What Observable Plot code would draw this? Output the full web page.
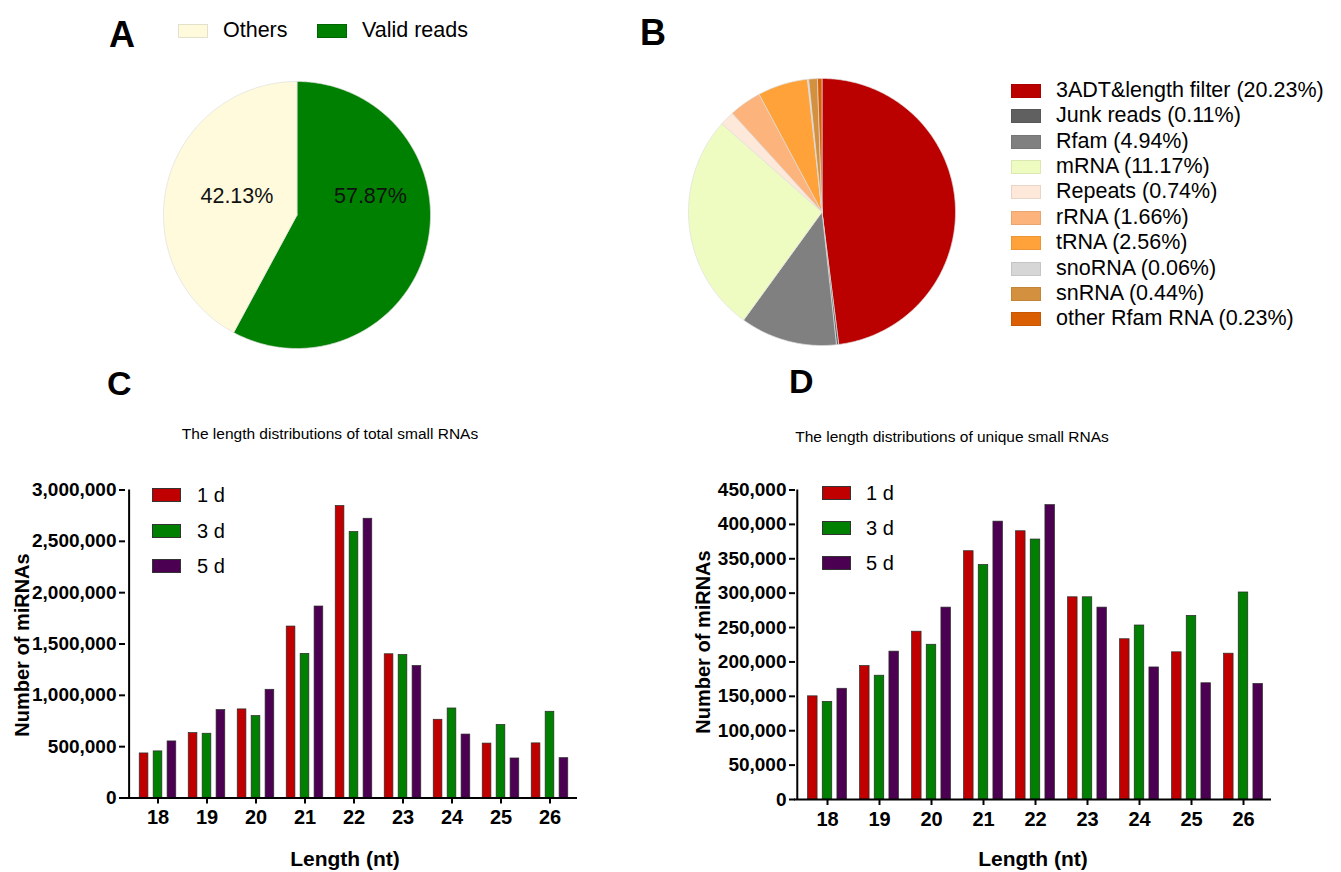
<!DOCTYPE html>
<html><head><meta charset="utf-8">
<script src="https://cdn.jsdelivr.net/npm/d3@7"></script>
<script src="https://cdn.jsdelivr.net/npm/@observablehq/plot@0.6"></script>
<style>
body{margin:0;background:#fff;}
#fig{position:relative;width:1341px;height:872px;background:#fff;font-family:"Liberation Sans",Arial,sans-serif;color:#000;overflow:hidden;}
.abs{position:absolute;white-space:nowrap;line-height:1;}
.plot{position:absolute;}
</style></head><body><div id="fig"></div>
<script>
// ---------- data ----------
const pieALabels = ["Others", "Valid reads"];
const pieAValues = [42.13, 57.87];
const pieAColors = ["#fffadc", "#008000"];

const pieBLabels = ["3ADT&length filter", "Junk reads", "Rfam", "mRNA", "Repeats", "rRNA", "tRNA", "snoRNA", "snRNA", "other Rfam RNA"];
const pieBValues = [20.23, 0.11, 4.94, 11.17, 0.74, 1.66, 2.56, 0.06, 0.44, 0.23];
const pieBColors = ["#bb0000", "#606060", "#808080", "#eefcc2", "#fde8da", "#fcb37c", "#ffa23a", "#d6d6d6", "#d3913f", "#d95f02"];

const lengths = ["18", "19", "20", "21", "22", "23", "24", "25", "26"];
const seriesNames = ["1 d", "3 d", "5 d"];
const seriesColors = ["#c00000", "#008000", "#4c0052"];

const total1d = [434000, 632000, 863000, 1670000, 2844000, 1400000, 762000, 530000, 532000];
const total3d = [454000, 626000, 798000, 1404000, 2591000, 1393000, 872000, 712000, 840000];
const total5d = [551000, 856000, 1054000, 1865000, 2720000, 1286000, 618000, 385000, 388000];

const unique1d = [150000, 194000, 244000, 361000, 390000, 294000, 233000, 214000, 212000];
const unique3d = [142000, 180000, 225000, 341000, 378000, 294000, 253000, 267000, 301000];
const unique5d = [161000, 215000, 279000, 404000, 428000, 279000, 192000, 169000, 168000];

const totalTicks = [0, 500000, 1000000, 1500000, 2000000, 2500000, 3000000];
const uniqueTicks = [0, 50000, 100000, 150000, 200000, 250000, 300000, 350000, 400000, 450000];

// ---------- helpers ----------
const fig = document.getElementById("fig");
function addText(txt, x, y, opts = {}) {
  const d = document.createElement("div");
  d.className = "abs";
  d.textContent = txt;
  d.style.left = x + "px";
  d.style.top = y + "px";
  d.style.fontSize = (opts.size || 16) + "px";
  d.style.fontWeight = opts.bold ? "bold" : "normal";
  let tf = "translateY(-50%)";
  if (opts.center) tf = "translate(-50%,-50%)";
  if (opts.rotate) tf = "translate(-50%,-50%) rotate(-90deg)";
  d.style.transform = tf;
  fig.appendChild(d);
  return d;
}
function addSwatch(x, y, w, h, color, border) {
  const d = document.createElement("div");
  d.className = "abs";
  Object.assign(d.style, {left: x + "px", top: (y - h / 2) + "px", width: w + "px", height: h + "px",
    background: color, boxSizing: "border-box", border: "1px solid " + (border || "rgba(0,0,0,0.35)")});
  fig.appendChild(d);
}
function place(el, left, top) {
  el.classList.add("plot");
  el.style.left = left + "px";
  el.style.top = top + "px";
  fig.appendChild(el);
}

function slicePoints(names, values, order) {
  const total = d3.sum(values);
  let a0 = 0;
  const pts = [], mids = [];
  for (const i of order) {
    const a1 = a0 + values[i] / total * 2 * Math.PI;
    pts.push({name: names[i], x: 0, y: 0});
    const n = Math.max(2, Math.ceil((a1 - a0) / (Math.PI / 360)));
    for (let k = 0; k <= n; k++) {
      const a = a0 + (a1 - a0) * k / n;
      pts.push({name: names[i], x: Math.sin(a), y: Math.cos(a)});
    }
    pts.push({name: names[i], x: 0, y: 0});
    mids.push({name: names[i], value: values[i], mid: (a0 + a1) / 2});
    a0 = a1;
  }
  return {pts, mids};
}

function pie(names, values, colors, order, r, extraMarks = () => []) {
  const {pts, mids} = slicePoints(names, values, order);
  const size = 2 * r + 2;
  return Plot.plot({
    width: size, height: size, margin: 1,
    style: {background: "transparent", overflow: "visible", fontFamily: "Liberation Sans, Arial, sans-serif"},
    x: {domain: [-1, 1], axis: null},
    y: {domain: [-1, 1], axis: null},
    color: {domain: names, range: colors},
    marks: [
      Plot.line(pts, {x: "x", y: "y", z: "name", fill: "name", stroke: "#dedede", strokeWidth: 0.7, curve: "linear"}),
      ...extraMarks(mids)
    ]
  });
}

function barChart(cfg) {
  const {vals, ticks, width, height, ml, mr, mt, mb} = cfg;
  const rows = [];
  seriesNames.forEach((s, i) => lengths.forEach((L, j) => rows.push({len: L, series: s, value: vals[i][j]})));
  const yMax = d3.max(ticks);
  const step = (width - ml - mr) / lengths.length;
  const barW = 0.19 * step, pitch = 0.28 * step;
  const inset = (step - barW) / 2;
  return Plot.plot({
    width, height, marginLeft: ml, marginRight: mr, marginTop: mt, marginBottom: mb,
    style: {fontFamily: "Liberation Sans, Arial, sans-serif", fontSize: "19px", fontWeight: "bold", color: "#000", background: "transparent", overflow: "visible"},
    x: {domain: lengths, padding: 0, axis: null},
    y: {domain: [0, yMax], axis: null},
    color: {domain: seriesNames, range: seriesColors},
    marks: [
      ...seriesNames.map((s, i) => Plot.barY(rows.filter(d => d.series === s), {
        x: "len", y: "value", fill: "series", stroke: "#2a2a2a", strokeWidth: 0.7,
        insetLeft: inset, insetRight: inset, dx: (i - 1) * pitch
      })),
      Plot.axisY({ticks, tickFormat: d3.format(","), tickSize: 6, tickPadding: 3, stroke: "#000", strokeWidth: 2, dx: -4, label: null, fontSize: 19, fontWeight: "bold"}),
      Plot.axisX({tickSize: 6, tickPadding: 6, stroke: "#000", strokeWidth: 2, label: null, fontSize: 20, fontWeight: "bold"}),
      Plot.ruleY([0], {stroke: "#000", strokeWidth: 2, insetLeft: -5}),
      Plot.ruleX([lengths[0]], {y1: 0, y2: yMax, dx: -step / 2 - 4, stroke: "#000", strokeWidth: 2})
    ]
  });
}

// ---------- Panel A ----------
addText("A", 109, 35, {size: 36, bold: true});
addSwatch(178, 31, 30, 14, pieAColors[0], "#e2e2cc");
addText(pieALabels[0], 223, 31, {size: 21.5});
addSwatch(317, 31, 30, 14, pieAColors[1], "#006400");
addText(pieALabels[1], 362, 31, {size: 21.5});
const rA = 133.5;
const pieA = pie(pieALabels, pieAValues, pieAColors, [1, 0], rA, mids => [
  Plot.text(mids, {x: d => Math.sign(Math.sin(d.mid)) * 0.5 + 0.05, y: 0.14, text: d => d.value.toFixed(2) + "%", fontSize: 21.5, fill: "#111"})
]);
place(pieA, 296.5 - rA - 1, 214 - rA - 1);

// ---------- Panel B ----------
addText("B", 640, 33, {size: 36, bold: true});
const rB = 133.5;
const pieB = pie(pieBLabels, pieBValues, pieBColors, d3.range(pieBLabels.length), rB);
place(pieB, 821 - rB - 1, 211 - rB - 1);
pieBLabels.forEach((lab, i) => {
  const y = 90.7 + i * 25.4;
  addSwatch(1011, y, 30, 14, pieBColors[i], "rgba(0,0,0,0.08)");
  addText(lab + " (" + pieBValues[i].toFixed(2) + "%)", 1056, y, {size: 21.5});
});

// ---------- Panel C ----------
addText("C", 107, 383, {size: 34, bold: true});
addText("The length distributions of total small RNAs", 330, 434, {size: 15.5, center: true});
const chartC = barChart({vals: [total1d, total3d, total5d], ticks: totalTicks, width: 600, height: 380, ml: 129, mr: 23, mt: 29.5, mb: 42.5});
place(chartC, 0, 460);
addText("Number of miRNAs", 22, 645, {size: 20, bold: true, rotate: true});
addText("Length (nt)", 345, 858, {size: 21, bold: true, center: true});
seriesNames.forEach((s, i) => {
  const y = 495 + i * 35.5;
  addSwatch(152, y, 29, 14, seriesColors[i], "#333");
  addText(s, 197, y, {size: 20});
});

// ---------- Panel D ----------
addText("D", 789, 381, {size: 34, bold: true});
addText("The length distributions of unique small RNAs", 952, 437, {size: 15.5, center: true});
const chartD = barChart({vals: [unique1d, unique3d, unique5d], ticks: uniqueTicks, width: 620, height: 380, ml: 119, mr: 29, mt: 29.5, mb: 41});
place(chartD, 680, 460);
addText("Number of miRNAs", 703, 642, {size: 20, bold: true, rotate: true});
addText("Length (nt)", 1033, 858, {size: 21, bold: true, center: true});
seriesNames.forEach((s, i) => {
  const y = 493 + i * 35;
  addSwatch(822, y, 29, 14, seriesColors[i], "#333");
  addText(s, 866, y, {size: 20});
});
</script>
</body></html>
